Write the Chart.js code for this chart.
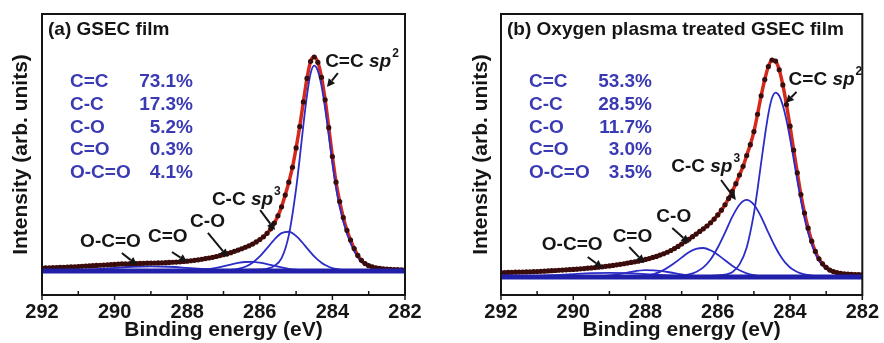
<!DOCTYPE html>
<html>
<head>
<meta charset="utf-8">
<script src="https://cdn.jsdelivr.net/npm/chart.js@4.4.1/dist/chart.umd.min.js"></script>
<style>
  html, body { margin: 0; background: #fff; }
  #wrap { position: relative; width: 884px; height: 343px; }
  canvas { position: absolute; top: 0; }
</style>
</head>
<body>
<div id="wrap">
  <canvas id="panelA" width="442" height="343" style="left:0"></canvas>
  <canvas id="panelB" width="442" height="343" style="left:442px"></canvas>
</div>
<script>
// C 1s spectra: binding energy (eV) vs intensity (arb. units, main peak ~ 100)

// measured points: 292.0 eV down to 282.0 eV, one every 0.1 eV
const envEnergy = Array.from({ length: 101 }, (_, i) => +(292 - i * 0.1).toFixed(1));

const compEnergy = [292, 291.5, 291, 290.5, 290, 289.5, 289, 288.5, 288,
  287.6, 287.2, 286.8, 286.6, 286.4, 286.2, 286.0,
  285.8, 285.6, 285.4, 285.2, 285.0,
  284.9, 284.8, 284.7, 284.6, 284.5, 284.4, 284.3, 284.2, 284.1, 284.0,
  283.9, 283.8, 283.6, 283.4, 283.2, 283.0,
  282.5, 282];

const baseEnergy = [292, 282];
const baseLevel = [0, 0];

const xTicks = [292, 290, 288, 286, 284, 282];
const xMinor = [291, 289, 287, 285, 283];

// (a) GSEC film
const aMeasured = [
  1.4, 1.45, 1.5, 1.55, 1.6, 1.7, 1.75, 1.8, 1.9, 2.0,
  2.1, 2.2, 2.3, 2.4, 2.5, 2.6, 2.7, 2.8, 2.9, 3.0,
  3.1, 3.2, 3.3, 3.35, 3.4, 3.45, 3.5, 3.55, 3.6, 3.65,
  3.7, 3.75, 3.8, 3.85, 3.9, 4.0, 4.1, 4.2, 4.3, 4.45,
  4.6, 4.8, 5.0, 5.25, 5.5, 5.8, 6.1, 6.4, 6.8, 7.2,
  7.6, 8.1, 8.6, 9.2, 9.8, 10.4, 11.1, 11.8, 12.6, 13.6,
  14.7, 16.0, 17.6, 19.7, 22.4, 25.8, 30.0, 35.5, 41.5, 48.5,
  57.5, 67.5, 79, 90, 98, 100, 97.5, 90.5, 80, 67,
  53.5, 41.5, 32.5, 25, 19, 14.5, 10.5, 7.3, 5.0, 3.5,
  2.5, 1.9, 1.5, 1.25, 1.05, 0.9, 0.8, 0.7, 0.65, 0.6,
  0.55];
const aSp2 = [0.1, 0.1, 0.1, 0.1, 0.1, 0.1, 0.1, 0.14, 0.18,
  0.22, 0.3, 0.4, 0.45, 0.5, 0.6, 0.75,
  1.05, 2.4, 6.0, 16.8, 38.4,
  52.8, 68.2, 82.1, 92.4, 96, 93.5, 86.5, 76, 63.5, 50.5,
  39, 30, 17.5, 9.3, 4.2, 2.0,
  0.6, 0.35];
const aSp3 = [0.02, 0.02, 0.03, 0.03, 0.04, 0.04, 0.05, 0.07, 0.09,
  0.12, 0.17, 0.5, 0.98, 2.0, 3.9, 6.8,
  10.7, 14.7, 17.7, 18.35, 16.4,
  14.7, 12.75, 10.7, 8.7, 6.8, 5.2, 3.9, 2.8, 2.0, 1.4,
  0.98, 0.7, 0.38, 0.22, 0.16, 0.13,
  0.09, 0.07];
const aCO = [0, 0, 0, 0, 0, 0, 0, 0.02, 0.1,
  0.49, 1.48, 3.04, 3.76, 4.21, 4.27, 3.93,
  3.28, 2.47, 1.69, 1.05, 0.59,
  0.43, 0.3, 0.21, 0.14, 0.09, 0.06, 0.04, 0.02, 0.01, 0,
  0, 0, 0, 0, 0, 0,
  0, 0];
const aCdO = [0, 0, 0, 0, 0, 0, 0.01, 0.09, 0.37,
  0.59, 0.5, 0.23, 0.13, 0.06, 0.02, 0,
  0, 0, 0, 0, 0,
  0, 0, 0, 0, 0, 0, 0, 0, 0, 0,
  0, 0, 0, 0, 0, 0,
  0, 0];
const aOCO = [0.05, 0.17, 0.43, 0.88, 1.46, 1.99, 2.2, 1.99, 1.46,
  0.99, 0.58, 0.30, 0.21, 0.14, 0.09, 0.05,
  0.03, 0.02, 0, 0, 0,
  0, 0, 0, 0, 0, 0, 0, 0, 0, 0,
  0, 0, 0, 0, 0, 0,
  0, 0];

// (b) oxygen plasma treated film
const bMeasured = [
  2.0, 2.05, 2.1, 2.15, 2.2, 2.25, 2.3, 2.35, 2.4, 2.45,
  2.5, 2.6, 2.7, 2.8, 2.9, 3.0, 3.1, 3.2, 3.3, 3.4,
  3.5, 3.6, 3.75, 3.9, 4.05, 4.2, 4.35, 4.5, 4.7, 4.9,
  5.1, 5.35, 5.6, 5.85, 6.1, 6.4, 6.7, 7.0, 7.3, 7.7,
  8.1, 8.5, 9.0, 9.5, 10.1, 10.7, 11.4, 12.2, 13.1, 14.1,
  15.2, 16.3, 17.4, 18.6, 19.8, 21.0, 22.2, 23.5, 25.0, 26.7,
  28.6, 30.8, 33.3, 36.2, 39.5, 43, 47, 51, 56, 61,
  67, 75, 83.5, 91, 97, 100, 99.5, 95.5, 88.5, 79.5,
  69.5, 58.5, 48, 38, 29.5, 22.5, 16.5, 11.8, 8.4, 6.1,
  4.4, 3.2, 2.5, 2.0, 1.7, 1.45, 1.35, 1.25, 1.15, 1.1,
  1.05];
const bSp2 = [0.1, 0.1, 0.1, 0.1, 0.1, 0.1, 0.1, 0.12, 0.16,
  0.2, 0.26, 0.33, 0.38, 0.45, 0.55, 0.75,
  1.1, 2.2, 5.8, 13.6, 29.3,
  40.4, 52.7, 64.6, 75.2, 82.5, 85, 83.5, 79, 72.3, 63.8,
  54.3, 44.6, 27.2, 15, 7.5, 3.7,
  0.95, 0.55];
const bSp3 = [0.05, 0.05, 0.06, 0.07, 0.08, 0.1, 0.11, 0.14, 0.19,
  0.26, 0.43, 1.17, 2.3, 4.4, 8.1, 13.6,
  20.4, 27.7, 33.3, 35.5, 33.3,
  30.8, 27.7, 24.1, 20.4, 16.9, 13.6, 10.6, 8.1, 6.0, 4.4,
  3.2, 2.3, 1.17, 0.67, 0.43, 0.3,
  0.2, 0.15];
const bCO = [0, 0, 0, 0, 0, 0, 0, 0.05, 0.56,
  2.35, 6.4, 11.4, 13.0, 13.36, 12.3, 10.3,
  7.7, 5.2, 3.1, 1.7, 0.84,
  0.56, 0.37, 0.24, 0.15, 0.09, 0.06, 0.03, 0.02, 0, 0,
  0, 0, 0, 0, 0, 0,
  0, 0];
const bCdO = [0, 0, 0, 0, 0.01, 0.13, 0.72, 2.05, 3.16,
  2.86, 1.75, 0.72, 0.4, 0.2, 0.09, 0.03,
  0, 0, 0, 0, 0,
  0, 0, 0, 0, 0, 0, 0, 0, 0, 0,
  0, 0, 0, 0, 0, 0,
  0, 0];
const bOCO = [0.08, 0.21, 0.46, 0.86, 1.33, 1.74, 1.9, 1.74, 1.33,
  0.95, 0.6, 0.34, 0.25, 0.17, 0.12, 0.08,
  0.05, 0.03, 0.02, 0, 0,
  0, 0, 0, 0, 0, 0, 0, 0, 0, 0,
  0, 0, 0, 0, 0, 0,
  0, 0];

// composition tables
const bonds = ['C=C', 'C-C', 'C-O', 'C=O', 'O-C=O'];
const aShares = ['73.1%', '17.3%', '5.2%', '0.3%', '4.1%'];
const bShares = ['53.3%', '28.5%', '11.7%', '3.0%', '3.5%'];

// peak labels: text start / arrow tail / arrow head, in (eV, intensity)
const aNotes = [
  { text: [['C=C ', 'b'], ['sp', 'bi'], ['2', 'sup']], at: [284.2, 97.7], tail: [283.85, 92.5], head: [284.15, 86] },
  { text: [['C-C ', 'b'], ['sp', 'bi'], ['3', 'sup']], at: [287.32, 33.2], tail: [285.99, 28.5], head: [285.58, 19.2] },
  { text: [['C-O', 'b']], at: [287.92, 22.9], tail: [287.43, 17.8], head: [286.88, 6.5] },
  { text: [['C=O', 'b']], at: [289.08, 15.9], tail: [288.42, 8.9], head: [288.0, 4.2] },
  { text: [['O-C=O', 'b']], at: [290.95, 13.6], tail: [289.8, 8.4], head: [289.38, 2.8] }
];
const bNotes = [
  { text: [['C=C ', 'b'], ['sp', 'bi'], ['2', 'sup']], at: [284.04, 90.8], tail: [283.82, 85.3], head: [284.12, 80.2] },
  { text: [['C-C ', 'b'], ['sp', 'bi'], ['3', 'sup']], at: [287.29, 50.7], tail: [285.91, 44.7], head: [285.5, 35.5] },
  { text: [['C-O', 'b']], at: [287.70, 27.6], tail: [287.26, 22.6], head: [286.79, 15.7] },
  { text: [['C=O', 'b']], at: [288.91, 18.4], tail: [288.45, 13.8], head: [288.03, 6.5] },
  { text: [['O-C=O', 'b']], at: [290.87, 14.7], tail: [289.6, 9.2], head: [289.19, 4.1] }
];

const FONT = "'Liberation Sans', Arial, sans-serif";
const INK = '#151515';

function pairs(xs, ys) {
  return xs.map((x, i) => ({ x, y: ys[i] }));
}

// bold text with italic / superscript pieces
function drawRich(ctx, x, y, parts) {
  ctx.fillStyle = INK;
  ctx.textBaseline = 'middle';
  ctx.textAlign = 'left';
  parts.forEach(([t, st]) => {
    if (st === 'sup') {
      ctx.font = 'bold 12px ' + FONT;
      ctx.fillText(t, x + 1, y - 8);
      x += ctx.measureText(t).width + 1;
    } else {
      ctx.font = (st === 'bi' ? 'italic bold ' : 'bold ') + '19px ' + FONT;
      ctx.fillText(t, x, y);
      x += ctx.measureText(t).width;
    }
  });
}

function arrow(ctx, x1, y1, x2, y2) {
  const a = Math.atan2(y2 - y1, x2 - x1), len = 8, w = 4;
  const bx = x2 - Math.cos(a) * len, by = y2 - Math.sin(a) * len;
  ctx.strokeStyle = INK;
  ctx.fillStyle = INK;
  ctx.lineWidth = 2;
  ctx.beginPath();
  ctx.moveTo(x1, y1);
  ctx.lineTo(bx, by);
  ctx.stroke();
  ctx.beginPath();
  ctx.moveTo(x2, y2);
  ctx.lineTo(bx - Math.sin(a) * w, by + Math.cos(a) * w);
  ctx.lineTo(bx + Math.sin(a) * w, by - Math.cos(a) * w);
  ctx.closePath();
  ctx.fill();
}

// frame, ticks, panel title, composition table, peak labels
const decor = {
  id: 'xpsDecor',
  afterDatasetsDraw(chart, args, opts) {
    const { ctx, chartArea: ca, scales: { x, y } } = chart;
    ctx.save();
    ctx.strokeStyle = INK;
    ctx.lineWidth = 2;
    ctx.strokeRect(ca.left, ca.top, ca.right - ca.left, ca.bottom - ca.top);

    ctx.lineWidth = 1.5;
    ctx.beginPath();
    xMinor.forEach(v => {
      const px = x.getPixelForValue(v);
      ctx.moveTo(px, ca.bottom);
      ctx.lineTo(px, ca.bottom - 4);
    });
    xTicks.forEach(v => {
      const px = x.getPixelForValue(v);
      ctx.moveTo(px, ca.bottom);
      ctx.lineTo(px, ca.bottom + 5);
    });
    ctx.stroke();

    ctx.fillStyle = INK;
    ctx.font = 'bold 19px ' + FONT;
    ctx.textBaseline = 'middle';
    ctx.textAlign = 'left';
    ctx.fillText(opts.title, ca.left + 6, ca.top + 16);

    ctx.fillStyle = '#3a3ab4';
    bonds.forEach((b, i) => {
      const ty = ca.top + 68 + i * 22.7;
      ctx.textAlign = 'left';
      ctx.fillText(b, ca.left + 28, ty);
      ctx.textAlign = 'right';
      ctx.fillText(opts.shares[i], ca.left + 151, ty);
    });

    opts.notes.forEach(n => {
      drawRich(ctx, x.getPixelForValue(n.at[0]), y.getPixelForValue(n.at[1]), n.text);
      arrow(ctx,
        x.getPixelForValue(n.tail[0]), y.getPixelForValue(n.tail[1]),
        x.getPixelForValue(n.head[0]), y.getPixelForValue(n.head[1]));
    });
    ctx.restore();
  }
};

function makePanel(id, p) {
  const line = (data, color, width) => ({
    data, borderColor: color, borderWidth: width, pointRadius: 0,
    fill: false, cubicInterpolationMode: 'monotone'
  });
  return new Chart(document.getElementById(id), {
    type: 'line',
    data: {
      datasets: [
        line(pairs(baseEnergy, baseLevel), '#2020aa', 5),
        {
          data: pairs(envEnergy, p.measured), showLine: false,
          pointRadius: 2.6, pointBackgroundColor: '#3a0c0c', pointBorderWidth: 0
        },
        ...p.components.map(c => line(pairs(compEnergy, c), '#2c2cc8', 1.8)),
        line(pairs(envEnergy, p.measured), '#d42a1e', 3.5)
      ]
    },
    options: {
      responsive: false,
      animation: false,
      events: [],
      layout: { padding: { top: 14, right: p.padRight, left: 0, bottom: 0 } },
      plugins: {
        legend: { display: false },
        tooltip: { enabled: false },
        xpsDecor: { title: p.title, shares: p.shares, notes: p.notes }
      },
      scales: {
        x: {
          type: 'linear', reverse: true, min: 282, max: 292,
          afterFit: s => { s.height = 48; },
          afterBuildTicks: s => { s.ticks = xTicks.map(v => ({ value: v })); },
          grid: { display: false, drawTicks: false },
          border: { display: false },
          ticks: { color: INK, font: { family: FONT, size: 20, weight: 'bold' }, padding: 5, maxRotation: 0 },
          title: {
            display: true, text: 'Binding energy (eV)', color: INK,
            font: { family: FONT, size: 21, weight: 'bold' }, padding: { top: 0, bottom: 0 }
          }
        },
        y: {
          min: p.yMin, max: p.yMax,
          afterFit: s => { s.width = p.axisWidth; },
          grid: { display: false },
          border: { display: false },
          ticks: { display: false },
          title: {
            display: true, text: 'Intensity (arb. units)', color: INK,
            font: { family: FONT, size: 21, weight: 'bold' }, padding: { top: p.titlePad, bottom: 0 }
          }
        }
      }
    },
    plugins: [decor]
  });
}

makePanel('panelA', {
  title: '(a) GSEC film', shares: aShares, notes: aNotes,
  measured: aMeasured, components: [aSp2, aSp3, aCO, aCdO, aOCO],
  yMin: -11.2, yMax: 120.1, axisWidth: 42, padRight: 37, titlePad: 9
});
makePanel('panelB', {
  title: '(b) Oxygen plasma treated GSEC film', shares: bShares, notes: bNotes,
  measured: bMeasured, components: [bSp2, bSp3, bCO, bCdO, bOCO],
  yMin: -8.3, yMax: 121.2, axisWidth: 59, padRight: 19, titlePad: 27
});
</script>
</body>
</html>
